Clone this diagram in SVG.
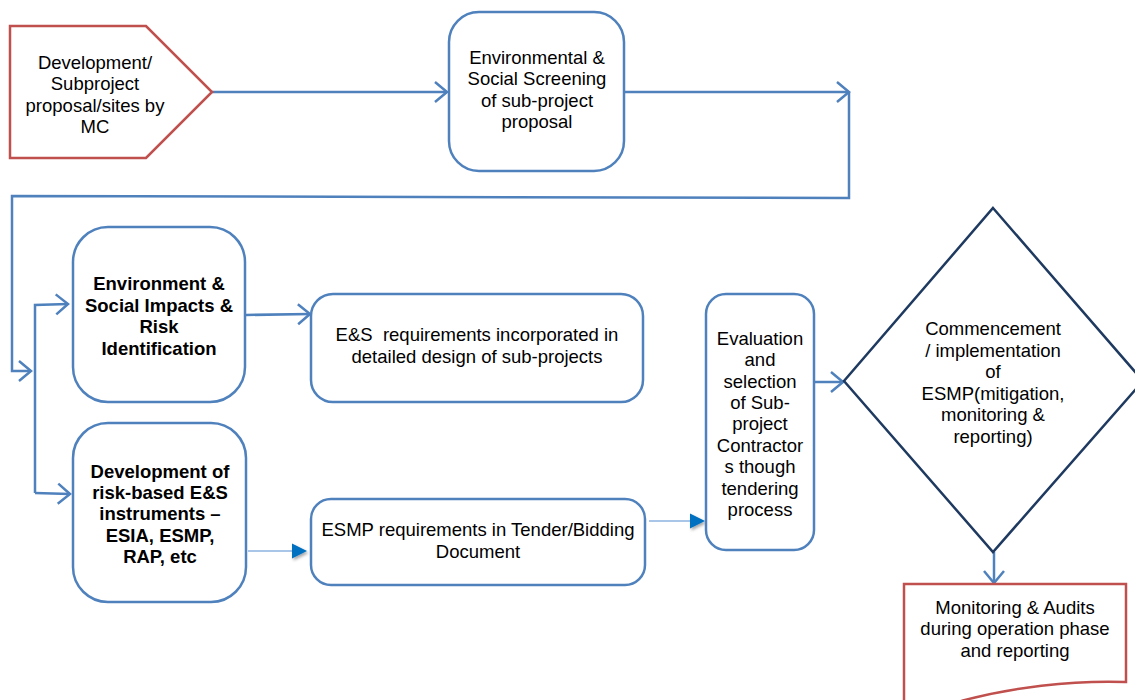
<svg xmlns="http://www.w3.org/2000/svg" width="1135" height="700" viewBox="0 0 1135 700">
<style>
text{font-family:"Liberation Sans",Arial,sans-serif;font-size:18.5px;fill:#000;text-anchor:middle;white-space:pre}
.b{font-weight:bold}
.box{fill:#fff;stroke:#4F81BD;stroke-width:2.5}
.red{fill:#fff;stroke:#C0504D;stroke-width:2.5}
.dia{fill:#fff;stroke:#1F3A60;stroke-width:2.5}
.con{fill:none;stroke:#4F81BD;stroke-width:2.5}
.thin{fill:none;stroke:#8DB3E2;stroke-width:1.5}
</style>
<defs>
<marker id="chev" markerUnits="userSpaceOnUse" markerWidth="18" markerHeight="26" refX="14" refY="12" orient="auto" viewBox="0 0 18 24">
<path d="M2,2 L14,12 L2,22" fill="none" stroke="#4F81BD" stroke-width="2.5"/>
</marker>
<filter id="sh" x="-50%" y="-50%" width="200%" height="200%">
<feDropShadow dx="1.5" dy="2" stdDeviation="1.5" flood-color="#000" flood-opacity="0.35"/>
</filter>
</defs>

<g id="connectors">
<path class="con" d="M212,92 H447" marker-end="url(#chev)"/>
<path class="con" d="M624,92 H849" marker-end="url(#chev)"/>
<path class="con" d="M849,92 V198 L12,196 V371 H31" marker-end="url(#chev)"/>
<path class="con" d="M35,493 V305 L68,304" marker-end="url(#chev)"/>
<path class="con" d="M35,493 L70,494" marker-end="url(#chev)"/>
<path class="con" d="M246,315 L310,314" marker-end="url(#chev)"/>
<path class="con" d="M814,382 H843" marker-end="url(#chev)"/>
<path class="con" d="M994,552 V583" marker-end="url(#chev)"/>
<path class="thin" d="M248,551 H292"/>
<path d="M292,543.5 L307,551 L292,558.5 Z" fill="#0070C0" filter="url(#sh)"/>
<path class="thin" d="M649,521 H690"/>
<path d="M690,513.5 L705,521 L690,528.5 Z" fill="#0070C0" filter="url(#sh)"/>
</g>

<g id="node-proposal">
<path class="red" d="M10,26 H146 L212,92 L146,158 H10 Z"/>
<text x="95" y="69">Development/</text>
<text x="95" y="90">Subproject</text>
<text x="95" y="112">proposal/sites by</text>
<text x="95" y="133">MC</text>
</g>

<g id="node-screening">
<rect class="box" x="449" y="12" width="175" height="159" rx="30"/>
<text x="537" y="64">Environmental &amp;</text>
<text x="537" y="85">Social Screening</text>
<text x="537" y="107">of sub-project</text>
<text x="537" y="128">proposal</text>
</g>

<g id="node-impacts">
<rect class="box" x="73" y="227" width="172" height="175" rx="35"/>
<text class="b" x="159" y="290">Environment &amp;</text>
<text class="b" x="159" y="312">Social Impacts &amp;</text>
<text class="b" x="159" y="333">Risk</text>
<text class="b" x="159" y="355">Identification</text>
</g>

<g id="node-design">
<rect class="box" x="311" y="294" width="332" height="108" rx="22"/>
<text x="477" y="341">E&amp;S  requirements incorporated in</text>
<text x="477" y="363">detailed design of sub-projects</text>
</g>

<g id="node-instruments">
<rect class="box" x="73" y="423" width="173" height="179" rx="35"/>
<text class="b" x="160" y="478">Development of</text>
<text class="b" x="160" y="499">risk-based E&amp;S</text>
<text class="b" x="160" y="520">instruments –</text>
<text class="b" x="160" y="542">ESIA, ESMP,</text>
<text class="b" x="160" y="563">RAP, etc</text>
</g>

<g id="node-tender">
<rect class="box" x="311" y="499" width="334" height="86" rx="20"/>
<text x="478" y="536">ESMP requirements in Tender/Bidding</text>
<text x="478" y="558">Document</text>
</g>

<g id="node-evaluation">
<rect class="box" x="706" y="294" width="108" height="256" rx="20"/>
<text x="760" y="345">Evaluation</text>
<text x="760" y="366">and</text>
<text x="760" y="388">selection</text>
<text x="760" y="409">of Sub-</text>
<text x="760" y="430">project</text>
<text x="760" y="452">Contractor</text>
<text x="760" y="473">s though</text>
<text x="760" y="495">tendering</text>
<text x="760" y="516">process</text>
</g>

<g id="node-esmp">
<path class="dia" d="M993,208 L1143,381 L993,552 L844,381 Z"/>
<text x="993" y="335">Commencement</text>
<text x="993" y="357">/ implementation</text>
<text x="993" y="378">of</text>
<text x="993" y="400">ESMP(mitigation,</text>
<text x="993" y="421">monitoring &amp;</text>
<text x="993" y="443">reporting)</text>
</g>

<g id="node-monitoring">
<path class="red" d="M904,584 H1126 V682 C1070,680 1010,688 965,700 C945,706 925,709 904,709 Z"/>
<text x="1015" y="614">Monitoring &amp; Audits</text>
<text x="1015" y="635">during operation phase</text>
<text x="1015" y="657">and reporting</text>
</g>
</svg>
